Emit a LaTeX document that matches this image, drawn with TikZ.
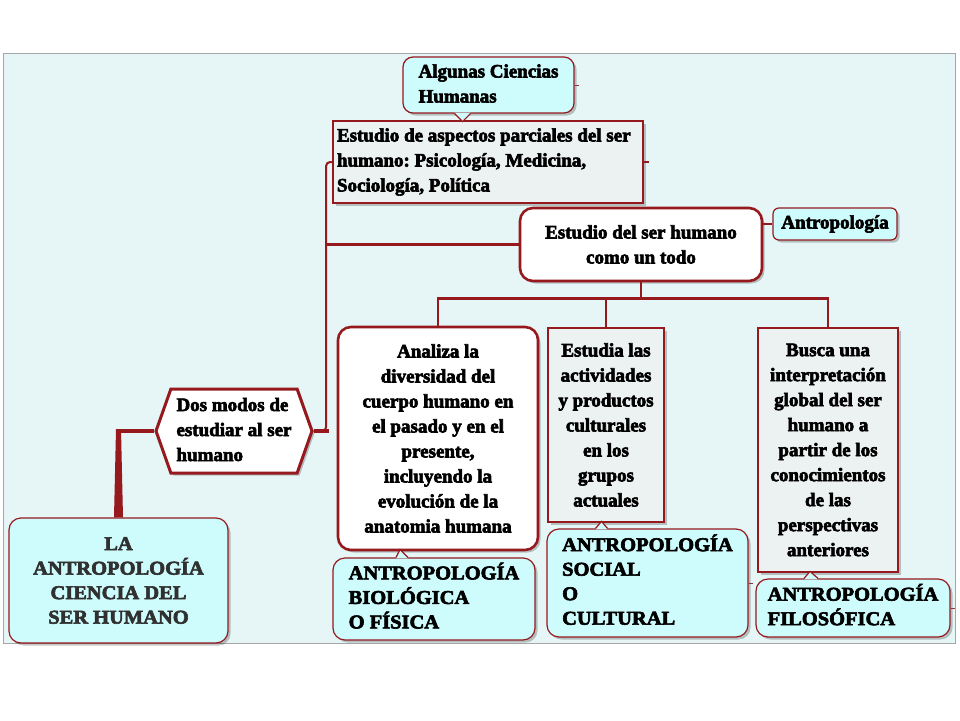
\documentclass[tikz,border=0pt]{standalone}
\usepackage{fontspec}
\setmainfont{Liberation Serif}[BoldFeatures={FakeBold=3.2}]
\newfontfamily\capsfont{Liberation Serif}[BoldFeatures={FakeBold=3.2,FakeStretch=1.05}]
\usetikzlibrary{shapes.symbols,shadows,calc}
\definecolor{dred}{RGB}{150,25,30}
\definecolor{cyfill}{RGB}{206,252,253}
\definecolor{panel}{RGB}{230,245,246}
\definecolor{grayfill}{RGB}{236,241,241}
\definecolor{latext}{RGB}{48,48,48}
\newcommand{\leftlines}[1]{\begin{tabular}{@{}l@{}}#1\end{tabular}}
\begin{document}
\begin{tikzpicture}[x=1pt,y=-1pt,
  font=\frenchspacing\bfseries\fontsize{19}{25}\selectfont,
  capsf/.style={font=\frenchspacing\capsfont\bfseries\fontsize{19.5}{24.5}\selectfont},
  shad/.style={drop shadow={shadow xshift=2.5pt,shadow yshift=-2.5pt,fill=black,opacity=0.22}},
  callout/.style={draw=dred,line width=1.2pt,fill=cyfill,rounded corners=10pt,shad,inner sep=0pt},
  whitebox/.style={draw=dred,line width=2.6pt,fill=white,rounded corners=13pt,shad,inner sep=0pt,align=center},
  graybox/.style={draw=dred,line width=2.4pt,fill=grayfill,shad,inner sep=0pt,align=center},
  conn/.style={draw=dred,line width=2pt},
  stub/.style={draw=dred!70!gray,line width=1pt},
  tail/.style={fill=cyfill},
  tailline/.style={draw=dred,line width=1.2pt}]
\useasboundingbox (0,0) rectangle (960,720);
\fill[white] (0,0) rectangle (960,720);
\draw[gray!70,line width=0.8pt,fill=panel] (3,53) rectangle (955,643);

% nodes
\node[callout,minimum width=171,minimum height=56] (alg) at (488.5,85) {\leftlines{Algunas Ciencias\\Humanas}};
\node[graybox,line width=1.8pt,minimum width=310,minimum height=82,text width=302,align=flush left] (asp) at (488,162) {Estudio de aspectos parciales del ser\\humano: Psicología, Medicina,\\Sociología, Política};
\node[whitebox,minimum width=242,minimum height=73] (todo) at (641,244.5) {Estudio del ser humano\\como un todo};
\node[callout,rounded corners=6pt,minimum width=124,minimum height=32] (ant) at (835,224) {Antropología};
\node[signal,signal to=west and east,signal pointer angle=141,draw=dred,line width=3pt,fill=white,shad,minimum width=156,minimum height=84,inner sep=0pt] (dos) at (234,431) {\leftlines{Dos modos de\\estudiar al ser\\humano}};
\node[callout,capsf,rounded corners=12pt,minimum width=219,minimum height=125,align=center,text=latext] (la) at (118.5,580.5) {LA\\ANTROPOLOGÍA\\CIENCIA DEL\\SER HUMANO};
\node[whitebox,minimum width=200,minimum height=223] (ana) at (438,438.5) {Analiza la\\diversidad del\\cuerpo humano en\\el pasado y en el\\presente,\\incluyendo la\\evolución de la\\anatomia humana};
\node[graybox,minimum width=116,minimum height=194] (est) at (606,425) {Estudia las\\actividades\\y productos\\culturales\\en los\\grupos\\actuales};
\node[graybox,minimum width=140,minimum height=244] (bus) at (828,450) {Busca una\\interpretación\\global del ser\\humano a\\partir de los\\conocimientos\\de las\\perspectivas\\anteriores};
\node[callout,capsf,rounded corners=12pt,minimum width=202,minimum height=82] (bio) at (434,599) {\leftlines{ANTROPOLOGÍA\\BIOLÓGICA\\O FÍSICA}};
\node[callout,capsf,rounded corners=12pt,minimum width=201,minimum height=108] (soc) at (647.5,583) {\leftlines{ANTROPOLOGÍA\\SOCIAL\\O\\CULTURAL}};
\node[callout,capsf,rounded corners=12pt,minimum width=194,minimum height=58] (fil) at (853,608) {\leftlines{ANTROPOLOGÍA\\FILOSÓFICA}};

% callout tails
\fill[tail] ($(alg.south)+(-34,-1)$) -- ($(alg.south)+(-26,8)$) -- ($(alg.south)+(-18,-1)$) -- cycle;
\draw[tailline] ($(alg.south)+(-34,0)$) -- ($(alg.south)+(-26,8)$) -- ($(alg.south)+(-18,0)$);
\fill[tail] ($(bio.north)+(-38,1)$) -- ($(bio.north)+(-34,-8)$) -- ($(bio.north)+(-26,1)$) -- cycle;
\draw[tailline] ($(bio.north)+(-38,0)$) -- ($(bio.north)+(-34,-8)$) -- ($(bio.north)+(-26,0)$);
\fill[tail] ($(soc.north)+(-52,1)$) -- ($(soc.north)+(-46,-7)$) -- ($(soc.north)+(-40,1)$) -- cycle;
\draw[tailline] ($(soc.north)+(-52,0)$) -- ($(soc.north)+(-46,-7)$) -- ($(soc.north)+(-40,0)$);
\fill[tail] ($(fil.north)+(-49,1)$) -- ($(fil.north)+(-43,-7)$) -- ($(fil.north)+(-35,1)$) -- cycle;
\draw[tailline] ($(fil.north)+(-49,0)$) -- ($(fil.north)+(-43,-7)$) -- ($(fil.north)+(-35,0)$);

% small stubs at the right of some boxes
\draw[stub] (alg.east) -- ++(4,0);
\draw[stub,draw=dred,line width=1.5pt] (asp.east) -- ++(5,0);
\draw[stub] (soc.east) -- ++(4,0);
\draw[stub] (fil.east) -- ++(4,0);

% connectors
\draw[conn,rounded corners=4pt] (asp.west) -- ++(-6,0) |- (dos.east);
\draw[conn,line width=4.5pt] (dos.east) -- ++(15,0);
\draw[conn,line width=3.8pt] (todo.west) -- ++(-193,0);
\draw[conn,line width=1.5pt] (ant.west -| todo.east) -- (ant.west);
\draw[conn,line width=4.5pt] (dos.west) -- (la.north |- dos.west);
\fill[dred] ($(la.north |- dos.west)+(-2.5,-2)$) -- ($(la.north |- dos.west)+(2.5,-2)$) -- ($(la.north)+(4.5,0)$) -- ($(la.north)+(-4.5,0)$) -- cycle;
\draw[conn,line width=2.5pt] (todo.south) -- ++(0,16) coordinate (hub);
\draw[conn,line width=2.5pt] (ana.north) -- (ana.north |- hub) -- (bus.north |- hub) -- (bus.north);
\draw[conn,line width=2.5pt] (est.north) -- (est.north |- hub);
\end{tikzpicture}
\end{document}
